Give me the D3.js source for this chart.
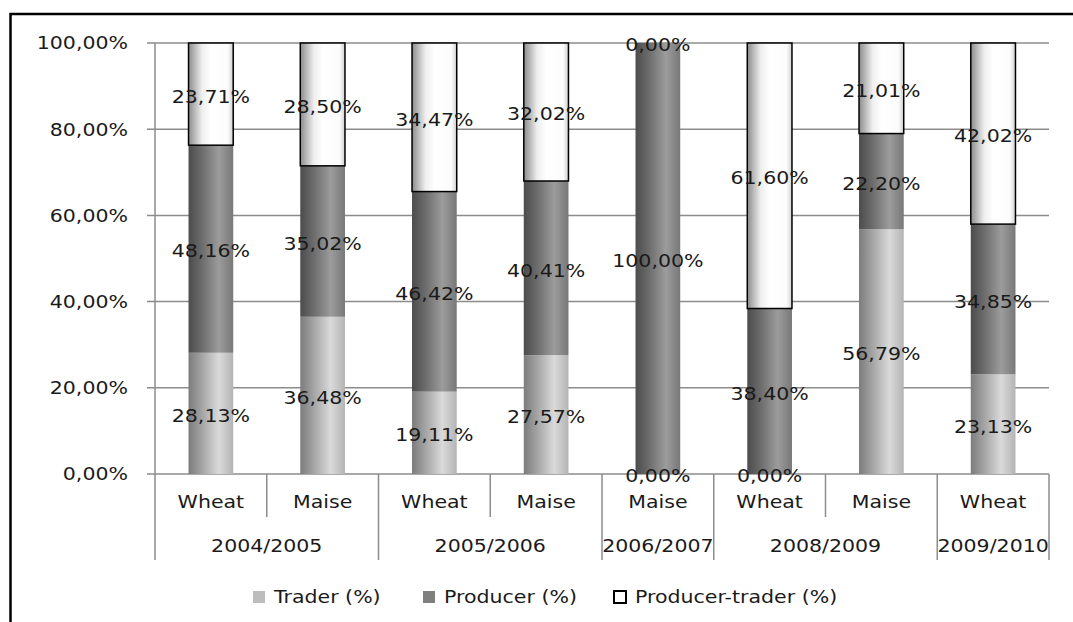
<!DOCTYPE html>
<html>
<head>
<meta charset="utf-8">
<script src="https://cdn.jsdelivr.net/npm/d3@7"></script>
<style>
  html, body { margin: 0; padding: 0; background: #fff; }
  svg { display: block; }
  text { font-family: "DejaVu Sans", sans-serif; fill: #1a1a1a; }
</style>
</head>
<body>
<svg id="chart" width="1073" height="622"></svg>
<script>
// Market participant shares by season and crop
const seasons = ["2004/2005", "2004/2005", "2005/2006", "2005/2006", "2006/2007", "2008/2009", "2008/2009", "2009/2010"];
const crops = ["Wheat", "Maise", "Wheat", "Maise", "Maise", "Wheat", "Maise", "Wheat"];
const trader = [28.13, 36.48, 19.11, 27.57, 0.00, 0.00, 56.79, 23.13];
const producer = [48.16, 35.02, 46.42, 40.41, 100.00, 38.40, 22.20, 34.85];
const producerTrader = [23.71, 28.50, 34.47, 32.02, 0.00, 61.60, 21.01, 42.02];
const seriesNames = ["Trader (%)", "Producer (%)", "Producer-trader (%)"];
const yTicks = [0, 20, 40, 60, 80, 100];

const svg = d3.select("#chart");
const FS = 18, SX = 1.14;   // font size and horizontal text stretch

const plotL = 155, plotR = 1049, plotT = 43, plotB = 474;
const idx = d3.range(crops.length);

const x = d3.scaleBand().domain(idx).range([plotL, plotR]).paddingInner(0.6).paddingOuter(0.3);
const y = d3.scaleLinear().domain([0, 100]).range([plotB, plotT]);
const step = x.step();
const fmt = v => d3.format(".2f")(v).replace(".", ",") + "%";

// stretched text helper
function label(g, tx, ty, str, anchor) {
  return g.append("text")
    .attr("transform", `translate(${tx},${ty}) scale(${SX},1)`)
    .attr("text-anchor", anchor || "middle")
    .attr("dy", "0.36em")
    .style("font-size", FS + "px")
    .text(str);
}

// gradients for cylinder-like shading
const defs = svg.append("defs");
const gradStops = [
  [[0, "#7c7c7c"], [0.3, "#a4a4a4"], [0.68, "#dadada"], [1, "#b4b4b4"]],
  [[0, "#4c4c4c"], [0.3, "#6c6c6c"], [0.68, "#9c9c9c"], [1, "#787878"]],
  [[0, "#8c8c8c"], [0.3, "#eeeeee"], [0.5, "#ffffff"], [0.88, "#fcfcfc"], [1, "#cfcfcf"]]
];
gradStops.forEach((stops, i) => {
  const lg = defs.append("linearGradient").attr("id", "g" + i)
    .attr("x1", 0).attr("x2", 1).attr("y1", 0).attr("y2", 0);
  stops.forEach(s => lg.append("stop").attr("offset", s[0]).attr("stop-color", s[1]));
});

// outer frame
svg.append("path").attr("d", "M10.5,622 V14 H1073")
  .attr("fill", "none").attr("stroke", "#000").attr("stroke-width", 2.5);

// horizontal gridlines
const grid = svg.append("g");
grid.selectAll("line").data(yTicks).join("line")
  .attr("x1", plotL - 8).attr("x2", plotR)
  .attr("y1", d => y(d)).attr("y2", d => y(d))
  .attr("stroke", "#8c8c8c").attr("stroke-width", 1.5);
// value axis line
svg.append("line").attr("x1", plotL).attr("x2", plotL).attr("y1", plotT).attr("y2", plotB)
  .attr("stroke", "#8c8c8c").attr("stroke-width", 1.5);

// y tick labels
const yl = svg.append("g");
yTicks.forEach(t => label(yl, 128, y(t), d3.format(".2f")(t).replace(".", ",") + "%", "end"));

// stacked bars
const stack = idx.map(i => {
  const vals = [trader[i], producer[i], producerTrader[i]];
  let acc = 0;
  return vals.map((v, s) => { const seg = { i, s, v, y0: acc, y1: acc + v }; acc += v; return seg; });
});
const bars = svg.append("g");
stack.flat().filter(d => d.v > 0).forEach(d => {
  bars.append("rect")
    .attr("x", x(d.i)).attr("width", x.bandwidth())
    .attr("y", y(d.y1)).attr("height", y(d.y0) - y(d.y1))
    .attr("fill", `url(#g${d.s})`)
    .attr("stroke", d.s === 2 ? "#000" : "none")
    .attr("stroke-width", 1.5);
});

// data labels
const dl = svg.append("g");
stack.flat().forEach(d => {
  label(dl, x(d.i) + x.bandwidth() / 2, y((d.y0 + d.y1) / 2) + 2, fmt(d.v));
});

// category axis: separators and labels
const ax = svg.append("g");
const groupEdges = [];
idx.forEach(i => { if (i === 0 || seasons[i] !== seasons[i - 1]) groupEdges.push(i); });
d3.range(crops.length + 1).forEach(k => {
  const isGroup = k === 0 || k === crops.length || groupEdges.includes(k);
  ax.append("line")
    .attr("x1", plotL + k * step).attr("x2", plotL + k * step)
    .attr("y1", plotB).attr("y2", isGroup ? 560 : 517)
    .attr("stroke", "#8c8c8c").attr("stroke-width", 1.5);
});
idx.forEach(i => label(ax, x(i) + x.bandwidth() / 2, 502, crops[i]));
groupEdges.forEach((g0, gi) => {
  const g1 = gi + 1 < groupEdges.length ? groupEdges[gi + 1] : crops.length;
  label(ax, plotL + (g0 + g1) / 2 * step, 546, seasons[g0]);
});

// legend
const legendFills = ["#bdbdbd", "#7f7f7f", "#ffffff"];
const legendX = [253, 423, 614];
const lg = svg.append("g");
seriesNames.forEach((n, i) => {
  lg.append("rect").attr("x", legendX[i]).attr("y", 591).attr("width", 12).attr("height", 12)
    .attr("fill", legendFills[i])
    .attr("stroke", i === 2 ? "#000" : "none").attr("stroke-width", 2);
  label(lg, legendX[i] + 21, 597, n, "start");
});
</script>
</body>
</html>
